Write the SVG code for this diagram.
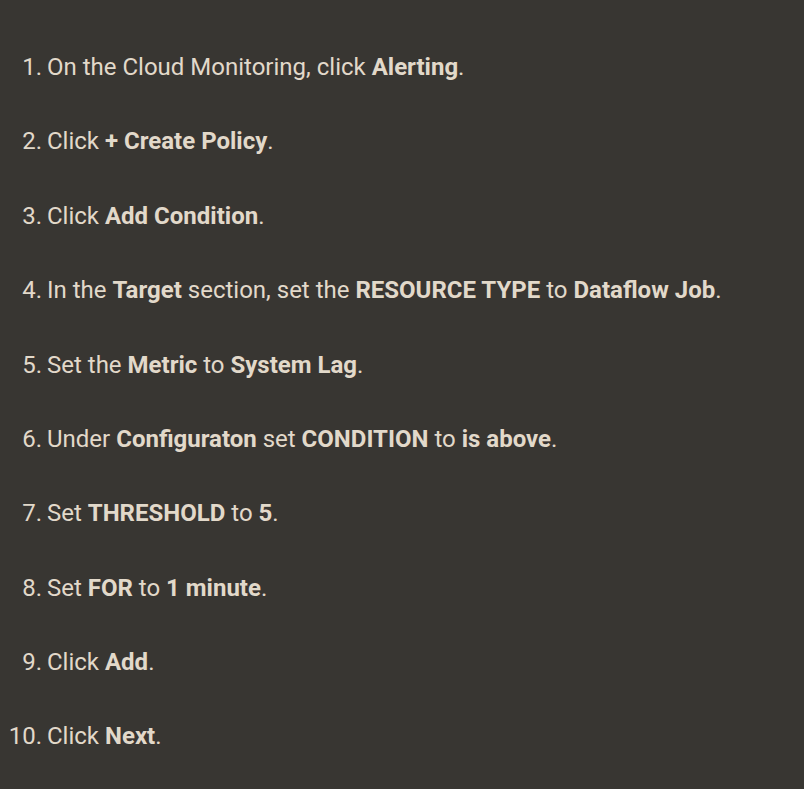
<svg xmlns="http://www.w3.org/2000/svg" width="804" height="789" viewBox="0 0 804 789">
<style>
text{font-family:Roboto,"Liberation Sans",sans-serif;font-size:24px;fill:#e2d9ca}
.n{text-anchor:end}
.b{font-weight:bold}
</style>
<rect width="804" height="789" fill="#383632"/>
<g id="step1"><text class="n" x="42" y="75">1.</text><text x="47" y="75">On the Cloud Monitoring, click <tspan class="b">Alerting</tspan>.</text></g>
<g id="step2"><text class="n" x="42" y="149">2.</text><text x="47" y="149">Click <tspan class="b">+ Create Policy</tspan>.</text></g>
<g id="step3"><text class="n" x="42" y="224">3.</text><text x="47" y="224">Click <tspan class="b">Add Condition</tspan>.</text></g>
<g id="step4"><text class="n" x="42" y="298">4.</text><text x="47" y="298">In the <tspan class="b">Target</tspan> section, set the <tspan class="b">RESOURCE TYPE</tspan> to <tspan class="b">Dataflow Job</tspan>.</text></g>
<g id="step5"><text class="n" x="42" y="373">5.</text><text x="47" y="373">Set the <tspan class="b">Metric</tspan> to <tspan class="b">System Lag</tspan>.</text></g>
<g id="step6"><text class="n" x="42" y="447">6.</text><text x="47" y="447">Under <tspan class="b">Configuraton</tspan> set <tspan class="b">CONDITION</tspan> to <tspan class="b">is above</tspan>.</text></g>
<g id="step7"><text class="n" x="42" y="521">7.</text><text x="47" y="521">Set <tspan class="b">THRESHOLD</tspan> to <tspan class="b">5</tspan>.</text></g>
<g id="step8"><text class="n" x="42" y="596">8.</text><text x="47" y="596">Set <tspan class="b">FOR</tspan> to <tspan class="b">1 minute</tspan>.</text></g>
<g id="step9"><text class="n" x="42" y="670">9.</text><text x="47" y="670">Click <tspan class="b">Add</tspan>.</text></g>
<g id="step10"><text class="n" x="42" y="744">10.</text><text x="47" y="744">Click <tspan class="b">Next</tspan>.</text></g>
</svg>
